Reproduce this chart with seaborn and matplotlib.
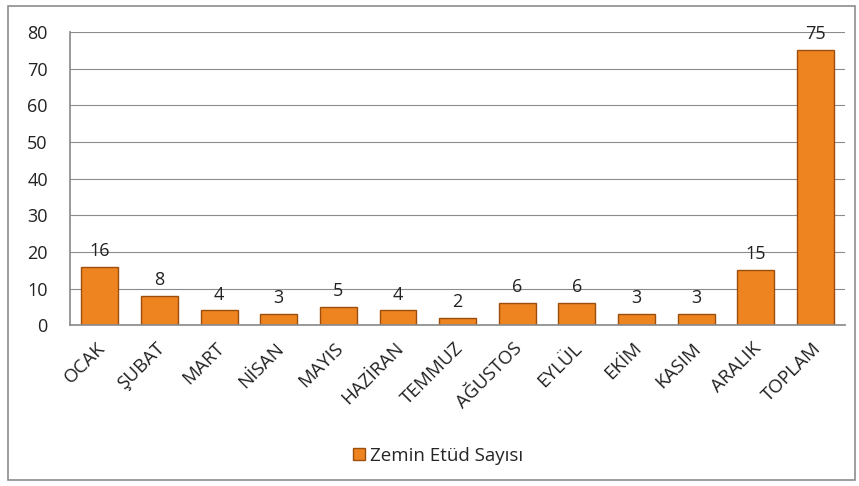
import matplotlib
matplotlib.use("Agg")
import matplotlib.pyplot as plt
import matplotlib.transforms as mtransforms
import seaborn as sns
import pandas as pd
from matplotlib.patches import Rectangle

categories = ["OCAK", "ŞUBAT", "MART", "NİSAN", "MAYIS", "HAZİRAN", "TEMMUZ",
              "AĞUSTOS", "EYLÜL", "EKİM", "KASIM", "ARALIK", "TOPLAM"]
values = [16, 8, 4, 3, 5, 4, 2, 6, 6, 3, 3, 15, 75]
series_name = "Zemin Etüd Sayısı"

df = pd.DataFrame({"Ay": categories, "Sayı": values})

sns.set_theme(style="white")
plt.rcParams['font.family'] = ['Open Sans', 'DejaVu Sans']

fig = plt.figure(figsize=(8.59, 4.86), dpi=100)
ax = fig.add_axes([0.0815, 0.331, 0.9025, 0.603])

sns.barplot(data=df, x="Ay", y="Sayı", ax=ax, color="#EE8420", width=0.62,
            edgecolor="#9C4E0C", linewidth=1.0, saturation=1, label=series_name)

ax.set_ylim(0, 80)
ax.set_yticks(range(0, 81, 10))
ax.set_xlim(-0.5, len(categories) - 0.5)
ax.yaxis.grid(True, color="#8c8c8c", linewidth=0.8)
ax.set_axisbelow(True)
for s in ["top", "right"]:
    ax.spines[s].set_visible(False)
ax.spines["left"].set_color("#8c8c8c")
ax.spines["bottom"].set_color("#8c8c8c")
ax.set_xlabel("")
ax.set_ylabel("")
ax.tick_params(axis="y", labelsize=13, colors="#222222", length=0, pad=16)
ax.tick_params(axis="x", labelsize=13.5, colors="#222222", length=0, pad=0)
offset = mtransforms.ScaledTranslation(-4 / 100, -14 / 100, fig.dpi_scale_trans)
for lbl in ax.get_xticklabels():
    lbl.set_rotation(45)
    lbl.set_ha("right")
    lbl.set_va("top")
    lbl.set_rotation_mode("anchor")
    lbl.set_transform(lbl.get_transform() + offset)

for i, v in enumerate(values):
    ax.annotate(str(v), (i, v), xytext=(0, 5), textcoords="offset points",
                ha="center", va="bottom", fontsize=13, color="#222222")

leg = ax.legend(loc="center", bbox_to_anchor=(0.475, -0.445), frameon=False,
                fontsize=13.5, handlelength=0.6, handleheight=0.6, handletextpad=0.3)

fig.patches.append(Rectangle((8 / 859, 6 / 486), 847 / 859, 474 / 486, transform=fig.transFigure,
                             fill=False, edgecolor="#8c8c8c", linewidth=1.2))

fig.savefig("out.png", dpi=100)
